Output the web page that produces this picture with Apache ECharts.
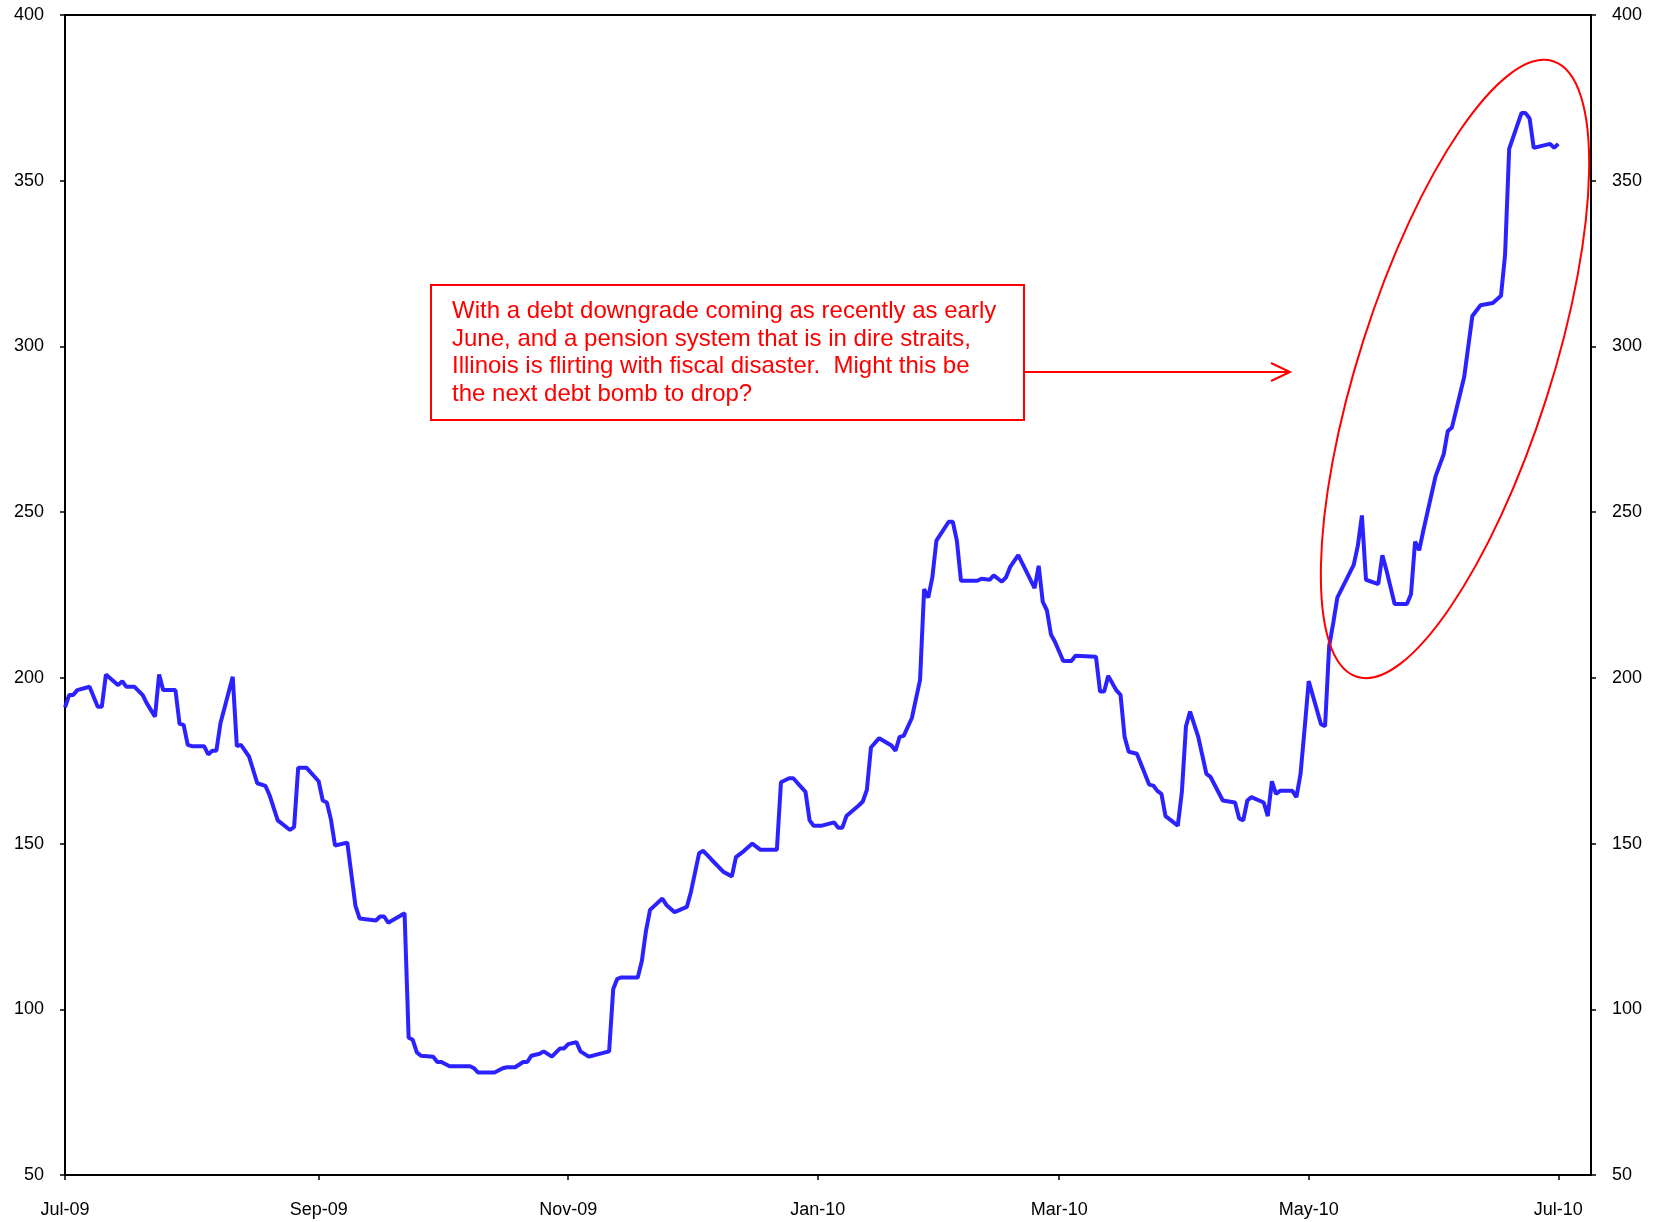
<!DOCTYPE html>
<html><head><meta charset="utf-8">
<script src="https://cdn.jsdelivr.net/npm/echarts@6/dist/echarts.min.js"></script>
<style>html,body{margin:0;padding:0;background:#fff}#c{width:1654px;height:1222px}</style>
</head><body><div id="c"></div>
<script>
const dates = [
'2009-07-01','2009-07-02','2009-07-03','2009-07-04','2009-07-07','2009-07-09','2009-07-10','2009-07-11','2009-07-14','2009-07-15','2009-07-16','2009-07-18','2009-07-20','2009-07-21','2009-07-23','2009-07-24','2009-07-25','2009-07-28','2009-07-29','2009-07-30','2009-07-31',
'2009-08-01','2009-08-04','2009-08-05','2009-08-06','2009-08-07','2009-08-08','2009-08-11','2009-08-12','2009-08-13','2009-08-15','2009-08-17','2009-08-19','2009-08-20','2009-08-22','2009-08-25','2009-08-26','2009-08-27','2009-08-29',
'2009-09-01','2009-09-02','2009-09-03','2009-09-04','2009-09-05','2009-09-08','2009-09-10','2009-09-11','2009-09-15','2009-09-16','2009-09-17','2009-09-18','2009-09-22','2009-09-23','2009-09-24','2009-09-25','2009-09-26','2009-09-29','2009-09-30',
'2009-10-01','2009-10-03','2009-10-08','2009-10-09','2009-10-10','2009-10-14','2009-10-16','2009-10-17','2009-10-19','2009-10-21','2009-10-22','2009-10-23','2009-10-25','2009-10-26','2009-10-28','2009-10-30','2009-10-31',
'2009-11-01','2009-11-03','2009-11-04','2009-11-06','2009-11-07','2009-11-11','2009-11-12','2009-11-13','2009-11-14','2009-11-18','2009-11-19','2009-11-20','2009-11-21','2009-11-24','2009-11-25','2009-11-27','2009-11-30',
'2009-12-01','2009-12-03','2009-12-04','2009-12-06','2009-12-09','2009-12-11','2009-12-12','2009-12-14','2009-12-16','2009-12-18','2009-12-22','2009-12-23','2009-12-25','2009-12-26','2009-12-29','2009-12-30','2009-12-31',
'2010-01-02','2010-01-05','2010-01-06','2010-01-07','2010-01-08','2010-01-11','2010-01-12','2010-01-13','2010-01-14','2010-01-16','2010-01-19','2010-01-20','2010-01-21','2010-01-22','2010-01-24','2010-01-26','2010-01-27','2010-01-28','2010-01-29','2010-01-30',
'2010-02-02','2010-02-03','2010-02-04','2010-02-05','2010-02-09','2010-02-10','2010-02-12','2010-02-13','2010-02-15','2010-02-16','2010-02-17','2010-02-19','2010-02-23','2010-02-24','2010-02-25','2010-02-26','2010-02-27','2010-02-28',
'2010-03-02','2010-03-04','2010-03-05','2010-03-10','2010-03-11','2010-03-12','2010-03-13','2010-03-15','2010-03-16','2010-03-17','2010-03-18','2010-03-20','2010-03-23','2010-03-24','2010-03-25','2010-03-26','2010-03-27','2010-03-30','2010-03-31',
'2010-04-01','2010-04-02','2010-04-04','2010-04-06','2010-04-07','2010-04-10','2010-04-13','2010-04-14','2010-04-15','2010-04-16','2010-04-17','2010-04-20','2010-04-21','2010-04-22','2010-04-23','2010-04-24','2010-04-27','2010-04-28','2010-04-29','2010-04-30',
'2010-05-01','2010-05-04','2010-05-05','2010-05-06','2010-05-07','2010-05-08','2010-05-12','2010-05-13','2010-05-14','2010-05-15','2010-05-18','2010-05-19','2010-05-20','2010-05-22','2010-05-25','2010-05-26','2010-05-27','2010-05-28','2010-05-29',
'2010-06-01','2010-06-03','2010-06-04','2010-06-05','2010-06-08','2010-06-09','2010-06-10','2010-06-12','2010-06-15','2010-06-17','2010-06-18','2010-06-19','2010-06-22','2010-06-23','2010-06-24','2010-06-25','2010-06-29','2010-06-30','2010-07-01'
];
const values = [
191.1,194.8,194.8,196.3,197.3,191.3,191.3,201.0,197.8,199.0,197.3,197.3,194.8,192.3,188.3,201.0,196.3,196.3,186.1,185.8,179.8,
179.4,179.4,176.9,178.0,178.0,186.3,200.3,179.4,179.8,176.2,168.2,167.4,164.6,157.0,154.1,155.0,172.9,172.9,
168.8,163.0,162.4,157.3,149.4,150.3,131.2,127.4,126.8,128.0,128.0,126.1,129.0,91.4,90.8,87.0,86.0,85.7,84.1,
84.1,82.8,82.8,82.2,80.9,80.9,82.2,82.5,82.5,84.1,84.1,86.0,86.6,87.3,85.7,88.2,88.2,
89.5,90.1,87.3,85.7,86.0,87.3,106.1,109.2,109.6,109.6,114.6,123.6,130.0,133.4,131.5,129.3,130.9,
135.4,147.1,147.8,145.2,141.4,140.1,145.9,147.8,150.0,148.1,148.1,168.5,169.7,169.7,165.6,157.0,155.4,
155.4,156.4,154.8,154.8,158.3,161.5,162.7,166.2,179.0,181.8,179.6,178.0,182.2,182.5,187.9,199.4,226.8,224.2,230.3,241.4,
247.1,247.1,241.4,229.3,229.3,229.9,229.6,230.9,229.0,230.3,233.4,237.0,227.1,233.8,222.9,220.4,213.1,210.8,
205.1,205.1,206.7,206.4,195.9,195.9,200.6,196.2,194.9,182.2,177.7,177.1,167.8,167.5,165.9,165.0,158.3,155.4,165.6,
185.4,189.8,182.2,171.0,170.1,163.0,162.4,157.6,157.0,163.0,164.0,162.4,158.3,168.8,165.0,165.9,165.9,164.0,171.0,184.7,
199.0,186.0,185.4,209.6,216.6,224.2,234.1,239.8,249.0,229.6,228.3,237.0,232.5,222.3,222.3,225.2,241.1,238.5,244.3,
260.8,267.5,274.5,275.5,290.8,300.0,309.2,312.4,313.1,315.3,327.7,359.6,370.4,370.4,368.8,359.9,361.1,359.9,361.1
];
const tickDates = ['2009-07-01','2009-09-01','2009-11-01','2010-01-01','2010-03-01','2010-05-01','2010-07-01'];
const tickLabels = ['Jul-09','Sep-09','Nov-09','Jan-10','Mar-10','May-10','Jul-10'];
const yTicks = {min:50, max:400, interval:50};
const annotationLines = [
'With a debt downgrade coming as recently as early',
'June, and a pension system that is in dire straits,',
'Illinois is flirting with fiscal disaster.  Might this be',
'the next debt bomb to drop?'
];

const DAY = 86400000;
const ts = d => Date.parse(d + 'T00:00:00Z');
const T0 = ts('2009-07-01');
const tickTs = tickDates.map(ts);
const data = dates.map((d, i) => [ts(d), values[i]]);
const FONT = '"Liberation Sans", Arial, sans-serif';

const chart = echarts.init(document.getElementById('c'), null, {renderer: 'canvas'});
const yAxisBase = pos => ({
  type: 'value', position: pos, min: yTicks.min, max: yTicks.max, interval: yTicks.interval,
  axisLine: {show: true, lineStyle: {color: '#000', width: 2}},
  axisTick: {show: true, length: 5, inside: false, lineStyle: {color: '#000', width: 1.5}},
  axisLabel: {margin: 21, fontSize: 18, color: '#000', fontFamily: FONT},
  splitLine: {show: false}
});
chart.setOption({
  animation: false,
  backgroundColor: '#fff',
  grid: {left: 65, right: 63, top: 15, bottom: 47, show: true, borderColor: '#000', borderWidth: 2, backgroundColor: 'transparent'},
  xAxis: {
    type: 'value', min: T0, max: T0 + 373 * DAY,
    axisLine: {show: true, onZero: false, lineStyle: {color: '#000', width: 2}},
    axisTick: {show: true, customValues: tickTs, length: 5, lineStyle: {color: '#000', width: 1.5}},
    axisLabel: {
      customValues: tickTs, margin: 26, fontSize: 18, color: '#000', fontFamily: FONT,
      formatter: v => {
        let best = 0, bd = Infinity;
        tickTs.forEach((t, i) => { const dd = Math.abs(t - v); if (dd < bd) { bd = dd; best = i; } });
        return tickLabels[best];
      }
    },
    splitLine: {show: false}
  },
  yAxis: [yAxisBase('left'), yAxisBase('right')],
  series: [{
    type: 'line', data: data, yAxisIndex: 0, symbol: 'none', showSymbol: false,
    lineStyle: {color: '#2b22ff', width: 4}, z: 3
  }],
  graphic: [
    {type: 'rect', shape: {x: 431, y: 285, width: 593, height: 135}, style: {fill: '#fff', stroke: '#ff0000', lineWidth: 2}, z: 10},
    {type: 'text', x: 452, y: 298, style: {text: annotationLines.join('\n'), fill: '#ff0000', font: '24px ' + FONT, lineHeight: 27.5, verticalAlign: 'top', align: 'left'}, z: 11},
    {type: 'line', shape: {x1: 1024, y1: 372, x2: 1290, y2: 372}, style: {stroke: '#ff0000', lineWidth: 2}, z: 10},
    {type: 'polyline', shape: {points: [[1271, 363], [1290, 372], [1271, 381]]}, style: {stroke: '#ff0000', lineWidth: 2, fill: 'none'}, z: 10},
    {type: 'ellipse', x: 1455, y: 369, rotation: 1.262, shape: {cx: 0, cy: 0, rx: 323, ry: 96}, style: {fill: 'none', stroke: '#ff0000', lineWidth: 2}, z: 10}
  ]
});
</script>
</body></html>
